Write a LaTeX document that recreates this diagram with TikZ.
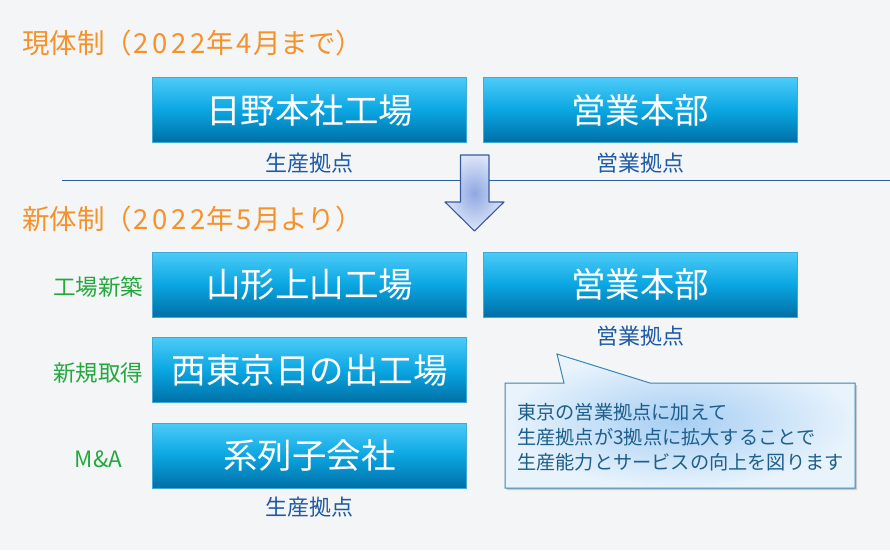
\documentclass[tikz,border=0pt]{standalone}
\usepackage{fontspec}
\newfontfamily\jp{Noto Sans CJK JP}
\usetikzlibrary{shadows}
\definecolor{bgc}{HTML}{F4F5F7}
\definecolor{ttl}{HTML}{F5922A}
\definecolor{grn}{HTML}{24A83E}
\definecolor{sub}{HTML}{1F5AA6}
\definecolor{sep}{HTML}{2B5E9E}
\definecolor{btop}{HTML}{4CCBF8}
\definecolor{bmid}{HTML}{0AA6E2}
\definecolor{bbot}{HTML}{006FA6}
\definecolor{bedge}{HTML}{3FA9D8}
\definecolor{cbd}{HTML}{3A84B6}
\definecolor{ctx}{HTML}{1D5E8C}
\definecolor{arin}{HTML}{8FA8E2}
\definecolor{arout}{HTML}{DCE5F8}
\definecolor{ared}{HTML}{365A9C}
\newcommand{\wdig}[1]{\makebox[0.68em]{#1}}
\tikzset{
  title/.style={font=\jp\fontsize{27.5}{30}\selectfont, text=ttl, anchor=west, inner sep=0pt},
  bluebox/.style={minimum width=314pt, minimum height=65pt, inner sep=0pt,
    top color=btop, bottom color=bbot, middle color=bmid, draw=bedge, line width=0.6pt,
    font=\jp\fontsize{34.5}{36}\selectfont, text=white},
  sublbl/.style={font=\jp\fontsize{22}{24}\selectfont, text=sub, inner sep=0pt},
  grnlbl/.style={font=\jp\fontsize{22.5}{24}\selectfont, text=grn, inner sep=0pt},
  calltext/.style={font=\jp\fontsize{19.2}{25}\selectfont, text=ctx, align=left, anchor=west, inner sep=0pt},
}
\begin{document}
\begin{tikzpicture}[x=1pt,y=-1pt]
\fill[bgc] (0,0) rectangle (890,550);
\useasboundingbox (0,0) rectangle (890,550);
% titles
\node[title] (t1) at (22,43) {現体制（\wdig{2}\wdig{0}\wdig{2}\wdig{2}年\wdig{4}月まで）};
\node[title] (t2) at (22,219) {新体制（\wdig{2}\wdig{0}\wdig{2}\wdig{2}年\wdig{5}月より）};
% separator line
\coordinate (l1) at (62,180);
\coordinate (l2) at (890,180);
\draw[sep, line width=1pt] (l1) -- (l2);
% top row
\node[bluebox] (hino) at (309.5,110) {日野本社工場};
\node[bluebox] (eig1) at (640,110) {営業本部};
\node[sublbl] (s1) at (309.5,163) {生産拠点};
\node[sublbl] (s2) at (640,163) {営業拠点};
% arrow
\draw[ared, line width=1.1pt, line join=round, inner color=arin, outer color=arout]
  (460.5,155) -- (489,155) -- (489,202) -- (504,202) -- (474.5,231) -- (445,202) -- (460.5,202) -- cycle;
% lower rows
\node[bluebox] (yama) at (309.5,284.5) {山形上山工場};
\node[bluebox] (eig2) at (640,284.5) {営業本部};
\node[sublbl] (s3) at (640,336) {営業拠点};
\node[bluebox] (nishi) at (309.5,370) {西東京日の出工場};
\node[bluebox] (kei) at (309.5,455.5) {系列子会社};
\node[sublbl] (s4) at (309.5,507) {生産拠点};
\node[grnlbl] (g1) at (98,287) {工場新築};
\node[grnlbl] (g2) at (98,373) {新規取得};
\node[grnlbl] (g3) at (98.5,459) {M\&A};
% callout
\draw[cbd, line width=1pt, line join=miter, inner color={rgb,255:red,166;green,206;blue,243}, outer color={rgb,255:red,232;green,243;blue,252},
  drop shadow={opacity=0.35, shadow xshift=2pt, shadow yshift=-2pt}]
  (505,383) -- (564,383) -- (557,354) -- (650,383) -- (855,383) -- (855,488) -- (505,488) -- cycle;
\node[calltext] (ct) at (517,437) {東京の営業拠点に加えて\\生産拠点が3拠点に拡大することで\\生産能力とサービスの向上を図ります};
\end{tikzpicture}
\end{document}
